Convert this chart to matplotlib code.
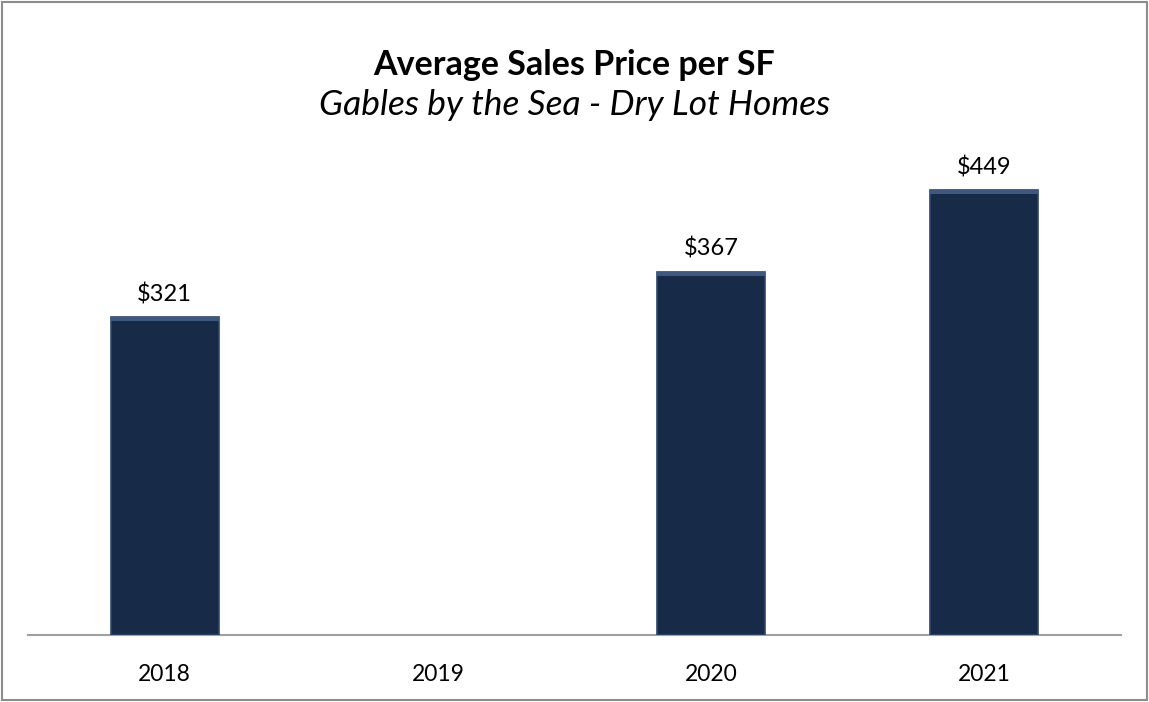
import matplotlib
matplotlib.use("Agg")
import matplotlib.pyplot as plt
from matplotlib.patches import Rectangle

years = ["2018", "2019", "2020", "2021"]
values = [321, None, 367, 449]

plt.rcParams['font.family'] = ['Lato', 'DejaVu Sans']

fig = plt.figure(figsize=(11.49, 7.02), dpi=100)
W, H = 1149, 702
ax = fig.add_axes([28/W, 1-635/H, 1093/W, (635-140)/H])

xs = list(range(len(years)))
bx = [x for x, v in zip(xs, values) if v is not None]
bv = [v for v in values if v is not None]
bars = ax.bar(bx, bv, width=0.395, color="#172a48", edgecolor="#2e466b", linewidth=1.2, zorder=3)
for b in bars:
    # subtle lighter bevel at top
    ax.add_patch(Rectangle((b.get_x(), b.get_height() - 4), b.get_width(), 4,
                           color="#3f5880", lw=0, zorder=4))
for x, v in zip(bx, bv):
    ax.text(x, v + 12, f"${v}", ha="center", va="bottom", fontsize=17, color="black")

ax.set_xlim(-0.5, 3.5)
ax.set_ylim(0, 500)
ax.set_xticks(xs)
ax.set_xticklabels(years, fontsize=16.5)
ax.tick_params(axis='x', length=0, pad=21)
ax.set_yticks([])
for s in ["top", "left", "right"]:
    ax.spines[s].set_visible(False)
ax.spines["bottom"].set_color("#a0a0a0")
ax.spines["bottom"].set_linewidth(1.5)

fig.text(0.5, 1-65/H, "Average Sales Price per SF", ha="center", va="center",
         fontsize=24.5, fontweight="bold")
fig.text(0.5, 1-105/H, "Gables by the Sea - Dry Lot Homes", ha="center", va="center",
         fontsize=25.5, style="italic")

fig.add_artist(Rectangle((2/W, 2/H), 1 - 4/W, 1 - 4/H, transform=fig.transFigure,
                         fill=False, edgecolor="#8c8c8c", linewidth=1.5))

fig.savefig("out.png", dpi=100)
